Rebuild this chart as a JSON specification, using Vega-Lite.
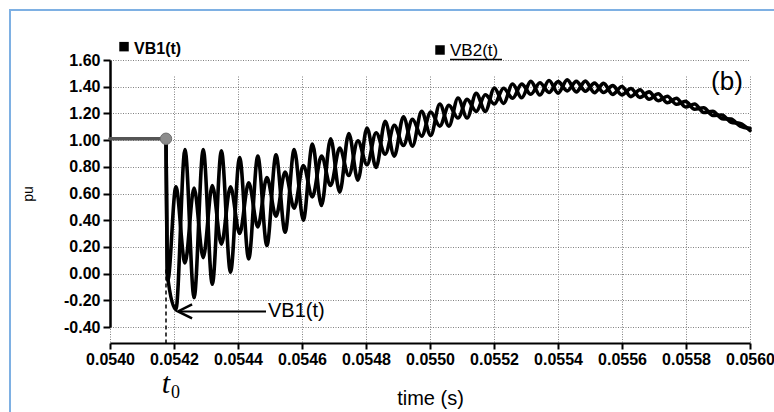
{
  "$schema": "https://vega.github.io/schema/vega-lite/v6.json",
  "width": 640,
  "height": 267,
  "autosize": {"type": "none"},
  "padding": {"left": 110, "top": 60, "right": 24, "bottom": 85},
  "background": "white",
  "config": {
    "view": {"stroke": null},
    "font": "Liberation Sans",
    "axis": {
      "domainColor": "black",
      "tickColor": "black",
      "labelColor": "black",
      "titleColor": "black",
      "labelFont": "Liberation Sans",
      "titleFont": "Liberation Sans",
      "labelFontSize": 16,
      "labelFontWeight": "bold",
      "labelOverlap": false,
      "labelBound": false,
      "titleFontWeight": "normal",
      "grid": true,
      "gridColor": "#808080",
      "gridDash": [1, 1.5],
      "gridWidth": 1,
      "gridOpacity": 1
    },
    "axisX": {"offset": 16, "tickSize": 6, "tickWidth": 2, "domainWidth": 2, "labelPadding": 2, "labelFlush": false, "titleFontSize": 20, "titlePadding": 21},
    "axisY": {"tickSize": 7, "tickWidth": 2, "domainWidth": 2.5, "labelPadding": 3, "titleFontSize": 14, "titlePadding": 28}
  },
  "layer": [
    {
      "data": {"values": [
        {"s":"pre","t":0.054,"v":1.01},{"s":"pre","t":0.054175,"v":1.01},
        {"s":"VB1","t":0.054175,"v":1.01},{"s":"VB1","t":0.054179,"v":0.0},
        {"s":"VB1","t":0.05420594,"v":-0.27},{"s":"VB1","t":0.05423438,"v":0.93},{"s":"VB1","t":0.05426281,"v":-0.18},{"s":"VB1","t":0.05429125,"v":0.93},
        {"s":"VB1","t":0.05431969,"v":-0.08},{"s":"VB1","t":0.05434813,"v":0.92},{"s":"VB1","t":0.05437656,"v":0.01},{"s":"VB1","t":0.054405,"v":0.87},
        {"s":"VB1","t":0.05443344,"v":0.11},{"s":"VB1","t":0.05446188,"v":0.88},{"s":"VB1","t":0.05449031,"v":0.21},{"s":"VB1","t":0.05451875,"v":0.89},
        {"s":"VB1","t":0.05454719,"v":0.31},{"s":"VB1","t":0.05457563,"v":0.93},{"s":"VB1","t":0.05460406,"v":0.40},{"s":"VB1","t":0.0546325,"v":0.97},
        {"s":"VB1","t":0.05466094,"v":0.51},{"s":"VB1","t":0.05468938,"v":1.01},{"s":"VB1","t":0.05471781,"v":0.61},{"s":"VB1","t":0.05474625,"v":1.05},
        {"s":"VB1","t":0.05477469,"v":0.70},{"s":"VB1","t":0.05480313,"v":1.09},{"s":"VB1","t":0.05483156,"v":0.795},{"s":"VB1","t":0.05486,"v":1.14},
        {"s":"VB1","t":0.05488844,"v":0.88},{"s":"VB1","t":0.05491688,"v":1.175},{"s":"VB1","t":0.05494531,"v":0.955},{"s":"VB1","t":0.05497375,"v":1.215},
        {"s":"VB1","t":0.05500219,"v":1.035},{"s":"VB1","t":0.05503063,"v":1.27},{"s":"VB1","t":0.05505906,"v":1.105},{"s":"VB1","t":0.0550875,"v":1.315},
        {"s":"VB1","t":0.05511594,"v":1.165},{"s":"VB1","t":0.05514438,"v":1.35},{"s":"VB1","t":0.05517281,"v":1.215},{"s":"VB1","t":0.05520125,"v":1.39},
        {"s":"VB1","t":0.05522969,"v":1.275},{"s":"VB1","t":0.05525813,"v":1.42},{"s":"VB1","t":0.05528656,"v":1.317},{"s":"VB1","t":0.055315,"v":1.44},
        {"s":"VB1","t":0.05534344,"v":1.338},{"s":"VB1","t":0.05537188,"v":1.447},{"s":"VB1","t":0.05540031,"v":1.352},{"s":"VB1","t":0.05542875,"v":1.451},
        {"s":"VB1","t":0.05545719,"v":1.361},{"s":"VB1","t":0.05548563,"v":1.442},{"s":"VB1","t":0.05551406,"v":1.355},{"s":"VB1","t":0.0555425,"v":1.425},
        {"s":"VB1","t":0.05557094,"v":1.342},{"s":"VB1","t":0.05559938,"v":1.402},{"s":"VB1","t":0.05562781,"v":1.326},{"s":"VB1","t":0.05565625,"v":1.377},
        {"s":"VB1","t":0.05568469,"v":1.306},{"s":"VB1","t":0.05571313,"v":1.347},{"s":"VB1","t":0.05574156,"v":1.28},{"s":"VB1","t":0.05577,"v":1.314},
        {"s":"VB1","t":0.05579844,"v":1.248},{"s":"VB1","t":0.05582688,"v":1.27},{"s":"VB1","t":0.05585531,"v":1.207},{"s":"VB1","t":0.05588375,"v":1.216},
        {"s":"VB1","t":0.05591219,"v":1.161},{"s":"VB1","t":0.05594063,"v":1.157},{"s":"VB1","t":0.05596906,"v":1.105},{"s":"VB1","t":0.056,"v":1.088},
        {"s":"VB2","t":0.054175,"v":1.01},{"s":"VB2","t":0.0541805,"v":-0.05},
        {"s":"VB2","t":0.05420594,"v":0.65},{"s":"VB2","t":0.05423438,"v":0.08},{"s":"VB2","t":0.05426281,"v":0.64},{"s":"VB2","t":0.05429125,"v":0.12},
        {"s":"VB2","t":0.05431969,"v":0.66},{"s":"VB2","t":0.05434813,"v":0.22},{"s":"VB2","t":0.05437656,"v":0.65},{"s":"VB2","t":0.054405,"v":0.30},
        {"s":"VB2","t":0.05443344,"v":0.68},{"s":"VB2","t":0.05446188,"v":0.35},{"s":"VB2","t":0.05449031,"v":0.72},{"s":"VB2","t":0.05451875,"v":0.43},
        {"s":"VB2","t":0.05454719,"v":0.76},{"s":"VB2","t":0.05457563,"v":0.49},{"s":"VB2","t":0.05460406,"v":0.81},{"s":"VB2","t":0.0546325,"v":0.575},
        {"s":"VB2","t":0.05466094,"v":0.88},{"s":"VB2","t":0.05468938,"v":0.66},{"s":"VB2","t":0.05471781,"v":0.94},{"s":"VB2","t":0.05474625,"v":0.735},
        {"s":"VB2","t":0.05477469,"v":0.995},{"s":"VB2","t":0.05480313,"v":0.815},{"s":"VB2","t":0.05483156,"v":1.055},{"s":"VB2","t":0.05486,"v":0.895},
        {"s":"VB2","t":0.05488844,"v":1.11},{"s":"VB2","t":0.05491688,"v":0.96},{"s":"VB2","t":0.05494531,"v":1.155},{"s":"VB2","t":0.05497375,"v":1.03},
        {"s":"VB2","t":0.05500219,"v":1.21},{"s":"VB2","t":0.05503063,"v":1.105},{"s":"VB2","t":0.05505906,"v":1.26},{"s":"VB2","t":0.0550875,"v":1.165},
        {"s":"VB2","t":0.05511594,"v":1.305},{"s":"VB2","t":0.05514438,"v":1.215},{"s":"VB2","t":0.05517281,"v":1.34},{"s":"VB2","t":0.05520125,"v":1.27},
        {"s":"VB2","t":0.05522969,"v":1.388},{"s":"VB2","t":0.05525813,"v":1.314},{"s":"VB2","t":0.05528656,"v":1.419},{"s":"VB2","t":0.055315,"v":1.343},
        {"s":"VB2","t":0.05534344,"v":1.43},{"s":"VB2","t":0.05537188,"v":1.357},{"s":"VB2","t":0.05540031,"v":1.438},{"s":"VB2","t":0.05542875,"v":1.369},
        {"s":"VB2","t":0.05545719,"v":1.44},{"s":"VB2","t":0.05548563,"v":1.366},{"s":"VB2","t":0.05551406,"v":1.427},{"s":"VB2","t":0.0555425,"v":1.356},
        {"s":"VB2","t":0.05557094,"v":1.408},{"s":"VB2","t":0.05559938,"v":1.339},{"s":"VB2","t":0.05562781,"v":1.386},{"s":"VB2","t":0.05565625,"v":1.32},
        {"s":"VB2","t":0.05568469,"v":1.361},{"s":"VB2","t":0.05571313,"v":1.295},{"s":"VB2","t":0.05574156,"v":1.329},{"s":"VB2","t":0.05577,"v":1.268},
        {"s":"VB2","t":0.05579844,"v":1.29},{"s":"VB2","t":0.05582688,"v":1.231},{"s":"VB2","t":0.05585531,"v":1.242},{"s":"VB2","t":0.05588375,"v":1.185},
        {"s":"VB2","t":0.05591219,"v":1.188},{"s":"VB2","t":0.05594063,"v":1.134},{"s":"VB2","t":0.05596906,"v":1.124},{"s":"VB2","t":0.056,"v":1.072}
      ]},
      "mark": {"type": "line", "interpolate": "monotone", "strokeWidth": 3.6, "strokeCap": "round", "strokeJoin": "round"},
      "encoding": {
        "x": {"field": "t", "type": "quantitative",
              "scale": {"domain": [0.054, 0.056], "nice": false, "zero": false},
              "axis": {"values": [0.054, 0.0542, 0.0544, 0.0546, 0.0548, 0.055, 0.0552, 0.0554, 0.0556, 0.0558, 0.056], "format": ".4f", "title": "time (s)"}},
        "y": {"field": "v", "type": "quantitative",
              "scale": {"domain": [-0.4, 1.6], "nice": false, "zero": false},
              "axis": {"values": [-0.4, -0.2, 0, 0.2, 0.4, 0.6, 0.8, 1, 1.2, 1.4, 1.6], "tickCount": 11, "format": ".2f", "labelExpr": "replace(datum.label, '\u2212', '-')", "title": "pu"}},
        "detail": {"field": "s", "type": "nominal"},
        "color": {"field": "s", "type": "nominal", "scale": {"domain": ["pre", "VB1", "VB2"], "range": ["#555555", "#000000", "#000000"]}, "legend": null}
      }
    },
    {
      "data": {"values": [{}]},
      "mark": {"type": "rect", "filled": false, "stroke": "#7eb0e3", "strokeWidth": 2},
      "encoding": {
        "x": {"datum": 0.0536875, "type": "quantitative"},
        "x2": {"datum": 0.05609375},
        "y": {"datum": 1.9745, "type": "quantitative"},
        "y2": {"datum": -1.0966}
      }
    },
    {
      "data": {"values": [{}]},
      "mark": {"type": "point", "filled": true, "fill": "#8c8c8c", "stroke": "#707070", "strokeWidth": 1, "opacity": 1, "size": 130},
      "encoding": {"x": {"datum": 0.054175, "type": "quantitative"}, "y": {"datum": 1.01, "type": "quantitative"}}
    },
    {
      "data": {"values": [{}]},
      "mark": {"type": "rule", "color": "black", "strokeWidth": 1.5, "strokeDash": [4, 3]},
      "encoding": {"x": {"datum": 0.054175, "type": "quantitative"}, "y": {"datum": 0.03, "type": "quantitative"}, "y2": {"datum": -0.52}}
    },
    {
      "data": {"values": [{}]},
      "mark": {"type": "rule", "color": "black", "strokeWidth": 2},
      "encoding": {"x": {"datum": 0.0542188, "type": "quantitative"}, "x2": {"datum": 0.0544875}, "y": {"datum": -0.283, "type": "quantitative"}}
    },
    {
      "data": {"values": [{}]},
      "mark": {"type": "point", "shape": "M1,-1L-1,0L1,1", "filled": false, "stroke": "black", "strokeWidth": 2.5, "opacity": 1, "size": 200},
      "encoding": {"x": {"datum": 0.0542344, "type": "quantitative"}, "y": {"datum": -0.283, "type": "quantitative"}}
    },
    {
      "data": {"values": [{}]},
      "mark": {"type": "text", "text": "VB1(t)", "align": "left", "baseline": "middle", "fontSize": 20, "font": "Liberation Sans", "color": "black"},
      "encoding": {"x": {"datum": 0.0544938, "type": "quantitative"}, "y": {"datum": -0.283, "type": "quantitative"}}
    },
    {
      "data": {"values": [{}]},
      "mark": {"type": "text", "text": "t", "align": "center", "baseline": "middle", "fontSize": 30, "font": "Liberation Serif", "fontStyle": "italic", "color": "black"},
      "encoding": {"x": {"datum": 0.054175, "type": "quantitative"}, "y": {"datum": -0.827, "type": "quantitative"}}
    },
    {
      "data": {"values": [{}]},
      "mark": {"type": "text", "text": "0", "align": "center", "baseline": "middle", "fontSize": 18, "font": "Liberation Serif", "color": "black"},
      "encoding": {"x": {"datum": 0.0542047, "type": "quantitative"}, "y": {"datum": -0.894, "type": "quantitative"}}
    },
    {
      "data": {"values": [{}]},
      "mark": {"type": "point", "shape": "square", "filled": true, "color": "black", "opacity": 1, "size": 90},
      "encoding": {"x": {"datum": 0.0540438, "type": "quantitative"}, "y": {"datum": 1.70, "type": "quantitative"}}
    },
    {
      "data": {"values": [{}]},
      "mark": {"type": "text", "text": "VB1(t)", "align": "left", "baseline": "middle", "fontSize": 16, "fontWeight": "bold", "font": "Liberation Sans", "color": "black"},
      "encoding": {"x": {"datum": 0.054075, "type": "quantitative"}, "y": {"datum": 1.685, "type": "quantitative"}}
    },
    {
      "data": {"values": [{}]},
      "mark": {"type": "point", "shape": "square", "filled": true, "color": "black", "opacity": 1, "size": 90},
      "encoding": {"x": {"datum": 0.0550313, "type": "quantitative"}, "y": {"datum": 1.675, "type": "quantitative"}}
    },
    {
      "data": {"values": [{}]},
      "mark": {"type": "text", "text": "VB2(t)", "align": "left", "baseline": "middle", "fontSize": 17, "font": "Liberation Sans", "color": "black"},
      "encoding": {"x": {"datum": 0.0550625, "type": "quantitative"}, "y": {"datum": 1.665, "type": "quantitative"}}
    },
    {
      "data": {"values": [{}]},
      "mark": {"type": "rule", "color": "black", "strokeWidth": 1.5},
      "encoding": {"x": {"datum": 0.0550625, "type": "quantitative"}, "x2": {"datum": 0.055225}, "y": {"datum": 1.603, "type": "quantitative"}}
    },
    {
      "data": {"values": [{}]},
      "mark": {"type": "text", "text": "(b)", "align": "center", "baseline": "middle", "fontSize": 26, "font": "Liberation Sans", "color": "black"},
      "encoding": {"x": {"datum": 0.0559281, "type": "quantitative"}, "y": {"datum": 1.438, "type": "quantitative"}}
    }
  ]
}
